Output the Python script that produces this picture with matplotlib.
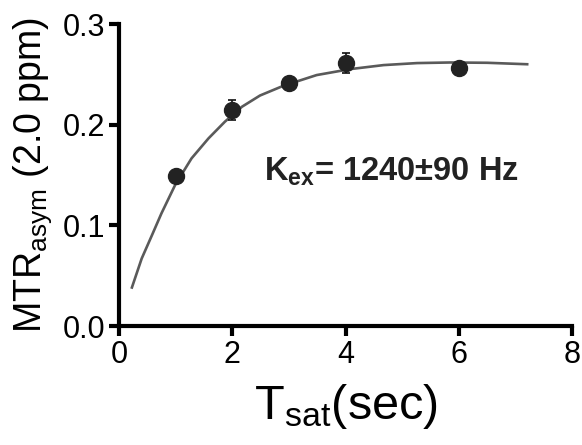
import matplotlib
matplotlib.use("Agg")
import matplotlib.pyplot as plt

plt.rcParams['font.family'] = ['Liberation Sans', 'DejaVu Sans']
plt.rcParams['mathtext.fontset'] = 'custom'
plt.rcParams['mathtext.rm'] = 'Liberation Sans'
plt.rcParams['mathtext.it'] = 'Liberation Sans'
plt.rcParams['mathtext.bf'] = 'Liberation Sans:bold'

# measured data
t_sat = [1, 2, 3, 4, 6]
mtr = [0.149, 0.215, 0.241, 0.261, 0.256]
mtr_err = [0.003, 0.010, 0.003, 0.010, 0.003]

# fitted curve
fit_t = [0.22, 0.40, 0.58, 0.75, 0.99, 1.28, 1.58, 1.87, 2.17, 2.49,
         2.90, 3.49, 4.08, 4.67, 5.26, 5.85, 6.50, 7.23]
fit_y = [0.037, 0.067, 0.090, 0.112, 0.140, 0.1665, 0.1864, 0.203, 0.2178, 0.229,
         0.2386, 0.2493, 0.2552, 0.2592, 0.2612, 0.2618, 0.2615, 0.260]

x_ticks = [0, 2, 4, 6, 8]
y_ticks = [0.0, 0.1, 0.2, 0.3]
y_tick_labels = ['0.0', '0.1', '0.2', '0.3']

fig = plt.figure(figsize=(5.82, 4.45), dpi=100)
ax = fig.add_axes([0.2045, 0.2674, 0.7785, 0.6786])

ax.plot(fit_t, fit_y, color='#5a5a5a', lw=1.9, zorder=2,
        solid_joinstyle='round', solid_capstyle='butt')
ax.errorbar(t_sat, mtr, yerr=mtr_err, fmt='o', color='#222222', ms=11.5,
            ecolor='#111111', elinewidth=1.2, capsize=3, capthick=1.2, zorder=3)

ax.set_xlim(0, 8)
ax.set_ylim(0, 0.3)
ax.set_xticks(x_ticks)
ax.set_yticks(y_ticks)
ax.set_yticklabels(y_tick_labels)

for s in ['top', 'right']:
    ax.spines[s].set_visible(False)
for s in ['left', 'bottom']:
    ax.spines[s].set_linewidth(3)
    ax.spines[s].set_color('black')
ax.tick_params(axis='both', direction='out', length=7, width=3, labelsize=22, pad=3)

ax.set_ylabel(r'MTR$_{\mathrm{asym}}$ (2.0 ppm)', fontsize=27, labelpad=6)
ax.set_xlabel(r'T$_{\mathrm{sat}}$(sec)', fontsize=35, labelpad=9)

ax.text(2.56, 0.144, r'K$_{\mathbf{ex}}$= 1240±90 Hz', fontsize=23.5,
        fontweight='bold', color='#222222', ha='left', va='baseline')

fig.savefig('out.png', dpi=100)
